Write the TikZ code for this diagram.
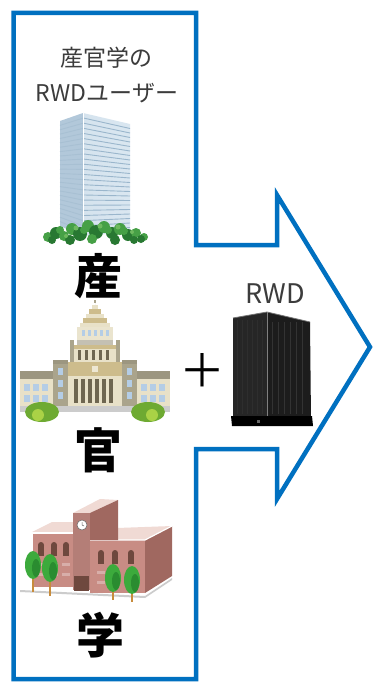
\documentclass[tikz,border=0pt]{standalone}
\usepackage{fontspec}
\setmainfont{Noto Sans CJK JP}
\usetikzlibrary{shapes.geometric}
\definecolor{frameblue}{RGB}{0,112,192}
\definecolor{labelgray}{RGB}{60,60,60}
\definecolor{skyleft}{RGB}{178,200,218}
\definecolor{skyright}{RGB}{222,234,243}
\definecolor{skystripe}{RGB}{110,150,182}
\definecolor{leafdark}{RGB}{40,120,50}
\definecolor{leafmid}{RGB}{70,160,70}
\definecolor{leaflight}{RGB}{110,185,95}
\definecolor{dietwall}{RGB}{232,225,200}
\definecolor{dietroof}{RGB}{156,150,128}
\definecolor{diettower}{RGB}{170,164,140}
\definecolor{diettan}{RGB}{205,188,140}
\definecolor{dietgap}{RGB}{110,102,80}
\definecolor{dietwin}{RGB}{180,205,230}
\definecolor{bushdark}{RGB}{110,170,50}
\definecolor{bushlight}{RGB}{170,210,70}
\definecolor{schoolfront}{RGB}{200,140,132}
\definecolor{schoolside}{RGB}{160,104,96}
\definecolor{schoolroof}{RGB}{240,218,212}
\definecolor{schoolwin}{RGB}{110,72,62}
\definecolor{treegreen}{RGB}{60,170,60}
\definecolor{treedark}{RGB}{30,120,40}
\definecolor{trunk}{RGB}{200,140,60}
\definecolor{nasleft}{RGB}{38,38,38}
\definecolor{nasright}{RGB}{28,28,28}
\tikzset{
  usertext/.style={text=labelgray, font=\fontsize{23}{23}\selectfont, inner sep=0pt},
  bigchar/.style={text=black, font=\fontsize{48}{48}\selectfont\bfseries, inner sep=0pt},
  plusmark/.style={text=black, font=\fontsize{46}{46}\selectfont, inner sep=0pt},
  rwdtext/.style={text=labelgray, font=\fontsize{27}{27}\selectfont, inner sep=0pt},
  outline/.style={draw=frameblue, line width=4.5pt, line join=miter},
}
\begin{document}
\begin{tikzpicture}[x=1pt,y=-1pt]
\useasboundingbox (0,0) rectangle (375,682);
\fill[white] (0,0) rectangle (375,682);

% frame: user column joined to an arrow pointing right
\draw[outline] (13.5,13) -- (196,13) -- (196,245) -- (277,245) -- (277,195)
  -- (370,347) -- (277,499) -- (277,449) -- (196,449) -- (196,679)
  -- (13.5,679) -- cycle;

% labels
\node[usertext] (lab1) at (106,58) {産官学の};
\node[usertext] (lab2) at (107,93) {RWDユーザー};
\node[bigchar] (san) at (98,276) {産};
\node[bigchar] (kan) at (98,450) {官};
\node[bigchar] (gaku) at (100,635) {学};
\node[plusmark] (plus) at (202,370) {＋};
\node[rwdtext] (rwd) at (275,294) {RWD};

% ---- office tower ----
\fill[skyleft] (60,121) -- (83,113) -- (83,236) -- (60,226) -- cycle;
\shade[left color=skyright!80!skyleft, right color=skyright!90!skyleft] (83,113) -- (130,124) -- (130,232) -- (83,236) -- cycle;
\foreach \i in {1,...,23}{
  \pgfmathsetmacro{\t}{\i/24}
  \draw[skystripe!60, line width=0.9pt] (60,{121+105*\t}) -- (83,{113+123*\t});
  \draw[skystripe!70, line width=0.9pt] (84,{113+123*\t}) -- (130,{124+108*\t});
}
\draw[white, line width=0.8pt] (83,113) -- (83,236);
% shrubbery along the foot of the tower
\foreach \x/\y/\r/\c in {48/237/5/leafmid, 56/233/6/leafdark, 64/236/5/leafmid, 72/229/6/leafmid,
  80/234/7/leafdark, 88/226/6/leafmid, 96/232/7/leafdark, 104/227/6/leafmid, 112/233/6/leafdark,
  120/229/6/leafmid, 128/235/6/leafdark, 136/233/5/leafmid, 144/237/4/leafmid, 52/240/4/leafdark,
  70/240/5/leafdark, 92/239/5/leafmid, 115/240/5/leafdark, 134/240/4/leafdark,
  60/230/4/leafmid, 84/230/4/leafmid, 108/230/4/leafmid, 124/231/4/leafmid, 141/239/4/leafdark}
  \fill[\c] (\x,\y) circle (\r);
\foreach \x/\y/\r in {76/228/2.5, 100/226/2.5, 118/227/2.5, 66/236/2, 132/232/2}
  \fill[leaflight] (\x,\y) circle (\r);

% ---- Diet building ----
\fill[black!20] (20,404) rectangle (170,412);
\foreach \xa/\xb in {20/53, 137/170}{
  \fill[dietwall] (\xa,378) rectangle (\xb,406);
  \fill[dietroof] (\xa,371) rectangle (\xb,379);
  \foreach \dx in {4,13,22}{
    \fill[dietwin] (\xa+\dx,384) rectangle (\xa+\dx+6,391);
    \fill[dietwin] (\xa+\dx,395) rectangle (\xa+\dx+6,402);
  }
}
\foreach \xa in {53,122}{
  \fill[diettower] (\xa,362) rectangle (\xa+15,406);
  \fill[dietroof] (\xa,360) rectangle (\xa+15,364);
  \foreach \yy in {368,380,392}
    \fill[dietwin] (\xa+5,\yy) rectangle (\xa+10,\yy+7);
}
\fill[dietwall] (68,362) rectangle (122,406);
\fill[diettan] (68,362) rectangle (122,376);
\fill[dietwall!80] (92,366) rectangle (98,372);
\foreach \x in {74,81,88,95,102,109}
  \fill[dietgap] (\x,379) rectangle (\x+4,403);
\fill[dietwall] (73,345) rectangle (117,362);
\fill[diettan] (73,345) rectangle (117,349);
\foreach \x in {78,85,92,99,106}
  \fill[dietgap] (\x,350) rectangle (\x+3,360);
\fill[diettower] (70,340) rectangle (74,362);
\fill[diettower] (116,340) rectangle (120,362);
\fill[dietwall!90!white] (77,327) rectangle (113,345);
\foreach \x in {82,88,94,100,106}
  \fill[dietwin] (\x,330) rectangle (\x+3,336);
\fill[dietroof!60] (77,340) rectangle (113,345);
\foreach \i/\c in {0/dietwall, 1/diettan, 2/dietwall, 3/diettan, 4/dietwall, 5/diettan}{
  \fill[\c] ({80+3*\i},{327-4.5*(\i+1)}) rectangle ({110-3*\i},{327-4.5*\i});
}
\fill[diettower] (94,300) rectangle (96,300+3);
\fill[bushdark] (42,412) ellipse (17 and 10);
\fill[bushlight] (38,415) circle (6);
\fill[bushdark] (148,412) ellipse (17 and 10);
\fill[bushlight] (152,415) circle (6);

% ---- school ----
% left wing
\fill[schoolroof] (32,532) -- (52,522) -- (74,522) -- (74,533) -- cycle;
\fill[schoolfront] (33,533) rectangle (74,587);
\draw[white, line width=1.2pt] (32,533) -- (74,533);
\foreach \x in {38,51,63}{
  \fill[schoolwin] (\x,545) rectangle (\x+6,556);
  \fill[schoolwin] (\x+3,545) circle (3);
  \fill[schoolfront!70!white] (\x-1,563) rectangle (\x+7,566);
  \fill[schoolfront!70!white] (\x-1,573) rectangle (\x+7,576);
}
% right wing
\fill[schoolroof] (90,540) -- (117,528) -- (172,526) -- (145,540) -- cycle;
\fill[schoolfront] (90,540) rectangle (145,593);
\fill[schoolside] (145,540) -- (172,526) -- (172,576) -- (145,593) -- cycle;
\draw[white, line width=1.2pt] (90,540) -- (145,540) -- (172,526);
\foreach \x in {98,112,128}{
  \fill[schoolwin] (\x,553) rectangle (\x+6,564);
  \fill[schoolwin] (\x+3,553) circle (3);
  \fill[schoolfront!70!white] (\x-1,571) rectangle (\x+7,574);
  \fill[schoolfront!70!white] (\x-1,581) rectangle (\x+7,584);
}
% clock tower
\fill[schoolroof] (73,513) -- (100,499) -- (118,500) -- (90,513) -- cycle;
\fill[schoolside] (90,513) -- (118,500) -- (118,540) -- (90,540) -- cycle;
\fill[schoolfront!90!black] (73,513) rectangle (90,590);
\fill[white] (82,525) circle (5);
\draw[black!60, line width=0.5pt] (82,525) circle (5) (82,525) -- (82,522) (82,525) -- (84,526);
\fill[schoolwin] (74,576) rectangle (89,591);
\fill[white!80!black] (20,590) -- (145,596) -- (172,578) -- (172,580) -- (145,598) -- (20,592) -- cycle;
% trees
\foreach \x/\y/\b in {33/565/592, 50/568/596, 113/578/600, 132/580/602}{
  \draw[trunk, line width=2pt] (\x,\y) -- (\x,\b);
  \fill[treegreen] (\x,\y) ellipse (8 and 14);
  \fill[treedark!60!treegreen] (\x+3,\y+3) ellipse (4 and 9);
}

% ---- RWD storage unit ----
\fill[nasleft] (233,318) -- (267,312) -- (267,420) -- (233,418) -- cycle;
\fill[nasright] (267,312) -- (310,322) -- (311,420) -- (267,420) -- cycle;
\foreach \x in {237,242,...,264}
  \draw[black!82, line width=0.3pt] (\x,320) -- (\x,414);
\foreach \x in {272,278,...,306}
  \draw[black!80, line width=0.3pt] (\x,322) -- (\x,414);
\draw[black!55, line width=0.8pt] (233,318) -- (267,312) -- (310,322);
\draw[black!50, line width=0.5pt] (267,312) -- (267,420);
\fill[black] (231,416) -- (312,416) -- (313,426) -- (232,426) -- cycle;
\fill[black!60] (257,420) rectangle (260,423);
\end{tikzpicture}
\end{document}
